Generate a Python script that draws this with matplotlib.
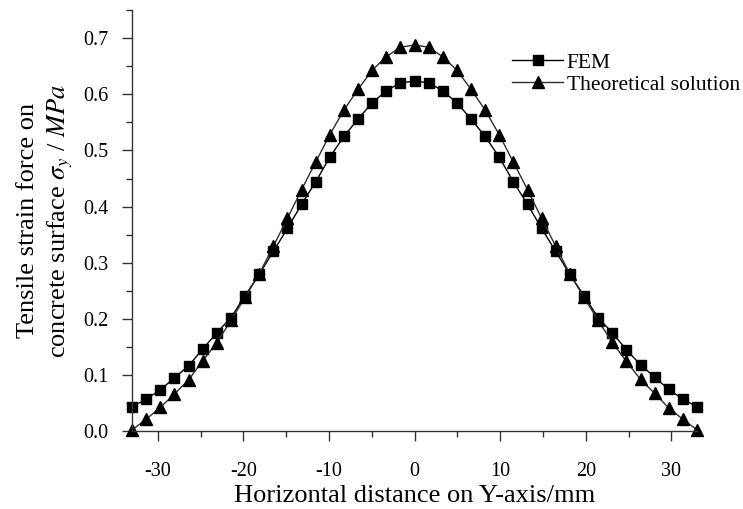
import numpy as np
import matplotlib.pyplot as plt
from matplotlib.ticker import MultipleLocator

plt.rcParams['font.family'] = ['Liberation Serif', 'DejaVu Serif']
plt.rcParams['mathtext.fontset'] = 'stix'
plt.rcParams['axes.unicode_minus'] = False

# horizontal positions (mm), 41 points from -33 to 33
x_mm = [-33.0, -31.35, -29.7, -28.05, -26.4, -24.75, -23.1, -21.45, -19.8, -18.15,
        -16.5, -14.85, -13.2, -11.55, -9.9, -8.25, -6.6, -4.95, -3.3, -1.65,
        0.0, 1.65, 3.3, 4.95, 6.6, 8.25, 9.9, 11.55, 13.2, 14.85,
        16.5, 18.15, 19.8, 21.45, 23.1, 24.75, 26.4, 28.05, 29.7, 31.35, 33.0]

fem = [0.043, 0.057, 0.073, 0.095, 0.116, 0.146, 0.175, 0.202, 0.241, 0.279,
       0.320, 0.361, 0.404, 0.444, 0.488, 0.525, 0.556, 0.585, 0.606, 0.621,
       0.623, 0.621, 0.606, 0.585, 0.556, 0.525, 0.488, 0.444, 0.404, 0.361,
       0.320, 0.279, 0.241, 0.202, 0.175, 0.145, 0.118, 0.096, 0.074, 0.057, 0.043]

theory = [0.002, 0.021, 0.042, 0.066, 0.091, 0.125, 0.157, 0.197, 0.238, 0.280,
          0.329, 0.379, 0.430, 0.479, 0.528, 0.572, 0.609, 0.643, 0.667, 0.684,
          0.688, 0.684, 0.667, 0.643, 0.609, 0.572, 0.528, 0.479, 0.430, 0.379,
          0.329, 0.280, 0.238, 0.197, 0.158, 0.124, 0.092, 0.067, 0.041, 0.021, 0.002]

fig = plt.figure(figsize=(7.43, 5.09), dpi=100)
ax = fig.add_axes([0.1777, 0.1532, 0.7604, 0.8268])

ax.plot(x_mm, fem, color='black', lw=1.0, marker='s', ms=7, label='FEM', clip_on=False)
ax.plot(x_mm, theory, color='#303030', lw=1.0, marker='^', ms=8.5,
        markerfacecolor='black', markeredgecolor='black', label='Theoretical solution',
        clip_on=False)

ax.set_xlim(-33, 33)
ax.set_ylim(0, 0.75)
ax.xaxis.set_major_locator(MultipleLocator(10))
ax.xaxis.set_minor_locator(MultipleLocator(5))
ax.yaxis.set_major_locator(MultipleLocator(0.1))
ax.yaxis.set_minor_locator(MultipleLocator(0.05))
ax.yaxis.set_major_formatter(plt.FuncFormatter(lambda v, p: f'{v:.1f}'))

for s in ['top', 'right']:
    ax.spines[s].set_visible(False)
for s in ['left', 'bottom']:
    ax.spines[s].set_linewidth(1.0)
    ax.spines[s].set_color('#333333')

ax.tick_params(which='major', direction='out', length=7, width=1, colors='#333333',
               labelsize=14.5, labelcolor='black')
ax.tick_params(which='minor', direction='out', length=4, width=1, colors='#333333')
ax.tick_params(axis='x', which='major', pad=15)
ax.tick_params(axis='y', which='major', pad=10)

ax.set_xlabel('Horizontal distance on Y-axis/mm', fontsize=19, labelpad=3)
ax.set_ylabel('Tensile strain force on\nconcrete surface $\\sigma_y$ / $MPa$',
              fontsize=19, labelpad=6, linespacing=1.35)

leg = ax.legend(loc='upper right', bbox_to_anchor=(1.11, 0.945), frameon=False,
                fontsize=15.5, handlelength=2.4, handletextpad=0.15, labelspacing=0.1)

fig.savefig('out.png', dpi=100)
